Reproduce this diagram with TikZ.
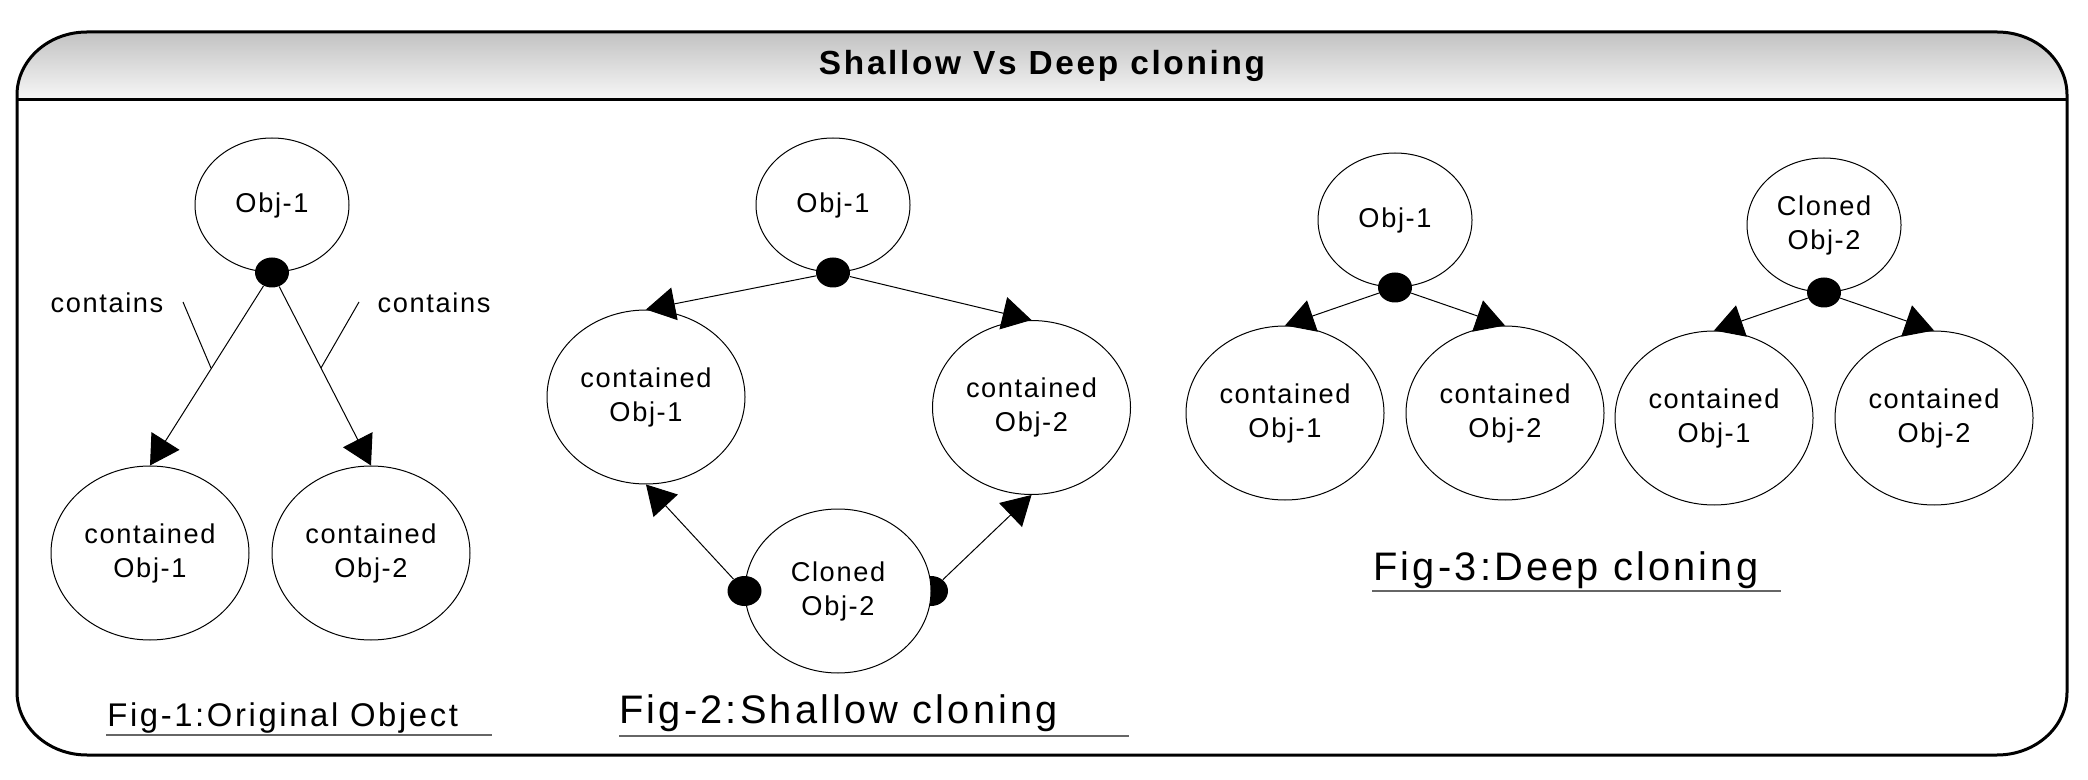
\documentclass[tikz,border=0pt]{standalone}
\usepackage{fontspec}
\setmainfont{Liberation Sans}
\newfontfamily\spfont[LetterSpace=6]{Liberation Sans}
\newfontfamily\capfont[LetterSpace=8]{Liberation Sans}
\usetikzlibrary{shapes.geometric,arrows.meta}
\tikzset{
  obj/.style={ellipse, draw, line width=0.5pt, fill=white, inner sep=0pt, align=center,
              font=\spfont\fontsize{13.6}{17}\selectfont},
  smallobj/.style={obj, minimum width=77pt, minimum height=67pt},
  bigobj/.style={obj, minimum width=99pt, minimum height=87pt},
  clonedobj/.style={obj, minimum width=93pt, minimum height=82pt},
  dot/.style={ellipse, fill=black, draw=none, inner sep=0pt, minimum width=17pt, minimum height=15pt},
  conn/.style={line width=0.5pt, -{Triangle[length=14.5pt,width=16.5pt]}},
  leader/.style={line width=0.5pt},
  lbl/.style={inner sep=0pt, font=\spfont\fontsize{13.6}{17}\selectfont},
  capA/.style={anchor=base west, inner sep=0pt, font=\capfont\fontsize{16.4}{19}\selectfont},
  capB/.style={anchor=base west, inner sep=0pt, font=\capfont\fontsize{19.9}{23}\selectfont},
  uline/.style={line width=0.6pt, black!60},
  framestyle/.style={line width=1.5pt},
}
\begin{document}
\begin{tikzpicture}[x=0.5pt,y=-0.5pt]
\useasboundingbox (0,0) rectangle (2088,780);
% header shading
\shade[top color=black!24, bottom color=black!3]
  (17,100) -- (17,95) .. controls (17,60.2) and (48.3,32) .. (87,32) -- (1997,32)
  .. controls (2035.7,32) and (2067,60.2) .. (2067,95) -- (2067,100) -- cycle;
% outer frame
\draw[framestyle]
  (17,95) .. controls (17,60.2) and (48.3,32) .. (87,32) -- (1997,32)
  .. controls (2035.7,32) and (2067,60.2) .. (2067,95) -- (2067,692)
  .. controls (2067,726.8) and (2035.7,755) .. (1997,755) -- (87,755)
  .. controls (48.3,755) and (17,726.8) .. (17,692) -- cycle;
\draw[framestyle] (17,100) -- (2067,100);
\node[anchor=base, inner sep=0pt, font=\capfont\bfseries\fontsize{16.7}{19}\selectfont]
  (title) at (1042,75) {Shallow Vs Deep cloning};

% ---------- Fig-1 ----------
\node[smallobj] (A1) at (272,205) {Obj-1};
\node[dot] (d1) at (A1.south) {};
\node[bigobj] (B1) at (150,553) {contained\\Obj-1};
\node[bigobj] (C1) at (371,553) {contained\\Obj-2};
\draw[conn] (d1) -- (B1.north);
\draw[conn] (d1) -- (C1.north);
\node[lbl] (lc1) at (107,303) {contains};
\node[lbl] (lc2) at (434,303) {contains};
\coordinate (lc1a) at (183,302);
\coordinate (lc1b) at (211,368);
\coordinate (lc2a) at (359,302);
\coordinate (lc2b) at (321,368);
\draw[leader] (lc1a) -- (lc1b);
\draw[leader] (lc2a) -- (lc2b);
\node[capA] (cap1) at (107,726) {Fig-1:Original Object};
\coordinate (u1a) at (106,735);
\coordinate (u1b) at (492,735);
\draw[uline] (u1a) -- (u1b);

% ---------- Fig-2 ----------
\node[smallobj] (A2) at (833,205) {Obj-1};
\node[dot] (d2) at (A2.south) {};
\node[bigobj] (B2) at (646,397) {contained\\Obj-1};
\node[bigobj] (C2) at (1031.5,407.5) {contained\\Obj-2};
\node[dot] (d2r) at (931,591) {};
\node[clonedobj] (D2) at (838,591) {Cloned\\Obj-2};
\node[dot] (d2l) at (D2.west) {};
\draw[conn] (d2) -- (B2.north);
\draw[conn] (d2) -- (C2.north);
\draw[conn] (d2l) -- (B2.south);
\draw[conn] (d2r) -- (C2.south);
\node[capB] (cap2) at (619,723) {Fig-2:Shallow cloning};
\coordinate (u2a) at (619,736);
\coordinate (u2b) at (1129,736);
\draw[uline] (u2a) -- (u2b);

% ---------- Fig-3 ----------
\node[smallobj] (A3) at (1395,220) {Obj-1};
\node[dot] (d3) at (A3.south) {};
\node[bigobj] (B3) at (1285,413) {contained\\Obj-1};
\node[bigobj] (C3) at (1505,413) {contained\\Obj-2};
\draw[conn] (d3) -- (B3.north);
\draw[conn] (d3) -- (C3.north);
\node[smallobj] (E3) at (1824,225) {Cloned\\Obj-2};
\node[dot] (d4) at (E3.south) {};
\node[bigobj] (F3) at (1714,418) {contained\\Obj-1};
\node[bigobj] (G3) at (1934,418) {contained\\Obj-2};
\draw[conn] (d4) -- (F3.north);
\draw[conn] (d4) -- (G3.north);
\node[capB] (cap3) at (1373,580) {Fig-3:Deep cloning};
\coordinate (u3a) at (1372,591);
\coordinate (u3b) at (1781,591);
\draw[uline] (u3a) -- (u3b);
\end{tikzpicture}
\end{document}
